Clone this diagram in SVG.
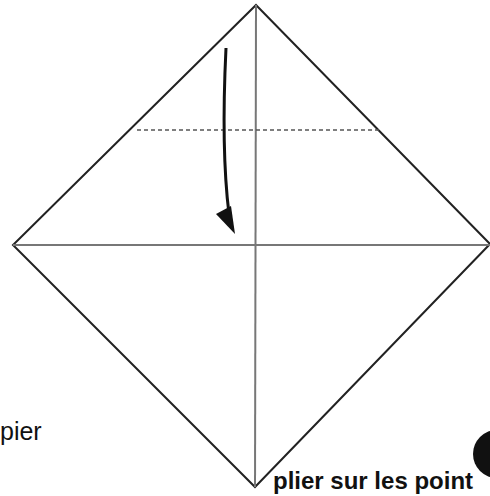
<svg xmlns="http://www.w3.org/2000/svg" width="490" height="496" viewBox="0 0 490 496">
<style>
.edge{stroke:#222;stroke-width:2;fill:none}
.crease{stroke:#777;stroke-width:2;fill:none}
.valley{stroke:#555;stroke-width:1.5;stroke-dasharray:4 3;fill:none}
.txt{font-family:"Liberation Sans",Arial,sans-serif;fill:#111}
</style>
<rect width="490" height="496" fill="#fff"/>
<g id="square">
<polygon class="edge" points="256,5 490,244 255,487 13,245"/>
</g>
<g id="creases">
<line class="crease" x1="256" y1="5" x2="255" y2="487"/>
<line class="crease" x1="13" y1="245" x2="490" y2="245"/>
<line class="valley" x1="137" y1="130" x2="380" y2="130"/>
</g>
<g id="connectors">
<path d="M226,48 Q221,150 229,214" stroke="#111" stroke-width="3" fill="none"/>
<polygon points="216,214 231,206 235,234" fill="#111"/>
</g>
<g id="labels">
<text class="txt" x="0" y="440" font-size="25">pier</text>
<circle cx="497" cy="454" r="24" fill="#111"/>
<text class="txt" x="273" y="489" font-size="24" font-weight="bold">plier sur les point</text>
</g>
</svg>
